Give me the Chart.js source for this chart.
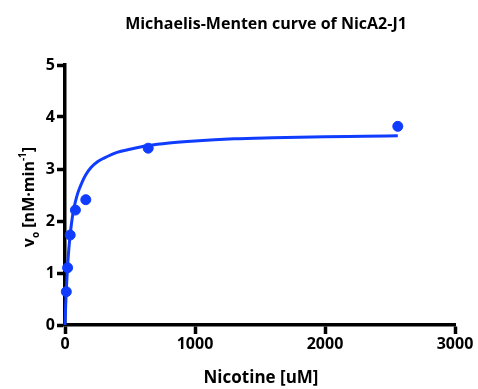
<!DOCTYPE html>
<html>
<head>
<meta charset="utf-8">
<script src="https://cdn.jsdelivr.net/npm/chart.js"></script>
<style>
  html, body { margin: 0; padding: 0; background: #fff; }
  #wrap { width: 478px; height: 389px; }
</style>
</head>
<body>
<div id="wrap"><canvas id="mmChart"></canvas></div>
<script>
// Measured points (nicotine uM, rate nM/min)
const substrate = [10, 20, 40, 80, 160, 640, 2560];
const rate = [0.64, 1.10, 1.73, 2.21, 2.41, 3.40, 3.82];

// Fitted curve
const fitX = [0, 5, 10, 20, 30, 40, 60, 80, 100, 130, 160, 200, 250, 300, 400, 500, 640, 800, 1000, 1300, 1600, 2000, 2300, 2560];
const fitY = [0, 0.37, 0.67, 1.14, 1.48, 1.74, 2.13, 2.37, 2.55, 2.74, 2.89, 3.03, 3.14, 3.21, 3.32, 3.38, 3.45, 3.50, 3.54, 3.58, 3.60, 3.62, 3.63, 3.64];

const xTicks = [0, 1000, 2000, 3000];
const yTicks = [0, 1, 2, 3, 4, 5];

const blue = '#0f3cff';
const fontFamily = '"Open Sans", "Noto Sans", sans-serif';

// Titles drawn by hand (y title has sub/superscripts)
const labelsPlugin = {
    id: 'labels',
    afterDraw(chart) {
        const ctx = chart.ctx;
        ctx.save();
        ctx.fillStyle = '#000';
        ctx.textBaseline = 'alphabetic';

        // Title
        ctx.font = 'bold 16px ' + fontFamily;
        ctx.textAlign = 'center';
        ctx.fillText('Michaelis-Menten curve of NicA2-J1', 266, 29);

        // X title
        ctx.font = 'bold 17px ' + fontFamily;
        ctx.fillText('Nicotine [uM]', 261, 383);

        // Y title, rotated
        ctx.translate(34, 197);
        ctx.rotate(-Math.PI / 2);
        ctx.textAlign = 'left';
        const big = 'bold 16px ' + fontFamily;
        const small = 'bold 10px ' + fontFamily;
        const parts = [
            { t: 'v', f: big, dy: 0 },
            { t: 'o', f: small, dy: 5 },
            { t: ' [nM\u00b7min', f: big, dy: 0 },
            { t: '-1', f: small, dy: -8 },
            { t: ']', f: big, dy: 0 }
        ];
        let total = 0;
        parts.forEach(p => { ctx.font = p.f; total += ctx.measureText(p.t).width; });
        let x = -total / 2;
        parts.forEach(p => {
            ctx.font = p.f;
            ctx.fillText(p.t, x, p.dy);
            x += ctx.measureText(p.t).width;
        });
        ctx.restore();
    }
};

const ctx = document.getElementById('mmChart').getContext('2d');
new Chart(ctx, {
    type: 'scatter',
    data: {
        datasets: [
            {
                label: 'Data',
                data: substrate.map((s, i) => ({ x: s, y: rate[i] })),
                backgroundColor: blue,
                borderColor: blue,
                pointRadius: 5,
                pointHoverRadius: 5,
                showLine: false,
                order: 1
            },
            {
                label: 'Fit',
                data: fitX.map((s, i) => ({ x: s, y: fitY[i] })),
                borderColor: blue,
                borderWidth: 3,
                pointRadius: 0,
                showLine: true,
                cubicInterpolationMode: 'monotone',
                fill: false,
                order: 2
            }
        ]
    },
    options: {
        responsive: true,
        maintainAspectRatio: false,
        animation: false,
        clip: false,
        layout: { padding: { top: 65, right: 23, left: 0, bottom: 0 } },
        plugins: {
            legend: { display: false },
            tooltip: { enabled: false }
        },
        scales: {
            x: {
                type: 'linear',
                min: 0,
                max: 3000,
                afterBuildTicks: scale => { scale.ticks = xTicks.map(v => ({ value: v })); },
                afterFit: scale => { scale.height = 64; },
                border: { display: true, color: '#000', width: 3.5 },
                grid: { drawOnChartArea: false, drawTicks: true, tickLength: 9, tickColor: '#000', tickWidth: 3.5 },
                ticks: {
                    color: '#000', font: { family: fontFamily, size: 16, weight: 'bold' }, padding: 1, maxRotation: 0,
                    callback: v => String(v)
                }
            },
            y: {
                type: 'linear',
                min: 0,
                max: 5,
                afterBuildTicks: scale => { scale.ticks = yTicks.map(v => ({ value: v })); },
                afterFit: scale => { scale.width = 65; },
                border: { display: true, color: '#000', width: 3.5 },
                grid: { drawOnChartArea: false, drawTicks: true, tickLength: 8, tickColor: '#000', tickWidth: 3.5 },
                ticks: {
                    color: '#000', font: { family: fontFamily, size: 16, weight: 'bold' }, padding: 2,
                    callback: v => String(v)
                }
            }
        }
    },
    plugins: [labelsPlugin]
});
</script>
</body>
</html>
